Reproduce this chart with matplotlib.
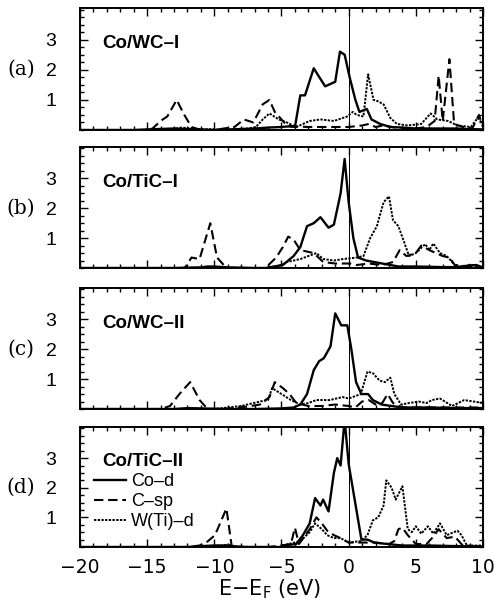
import numpy as np
import matplotlib
matplotlib.use("Agg")
import matplotlib.pyplot as plt
from matplotlib.ticker import MultipleLocator
from matplotlib.transforms import blended_transform_factory

# ---- panel (a) Co/WC-I ----
a_co_E = [-20, -16, -15, -13, -12, -10, -8, -7, -6, -5, -4.5, -4.0, -3.6, -3.25, -2.6, -2.25, -1.75,
          -1.0, -0.65, -0.3, 0.1, 0.5, 0.8, 1.35, 1.7, 2.35, 3.1, 4, 5, 6, 7, 8, 9, 10]
a_co = [0, 0, 0.02, 0.05, 0.03, 0.0, 0.03, 0.05, 0.08, 0.1, 0.12, 0.1, 1.15, 1.15, 2.05, 1.8, 1.45,
        1.6, 2.6, 2.5, 1.7, 1.0, 0.6, 0.7, 0.35, 0.2, 0.1, 0.08, 0.05, 0.05, 0.05, 0.05, 0.03, 0.02]
a_c_E = [-20, -15, -14.6, -14.0, -13.5, -12.8, -12.3, -11.7, -11, -10, -9.3, -8.5, -7.8, -7.1, -6.4,
         -5.9, -5.5, -5.0, -4.6, -4, -3, -2, -1, 0, 1, 1.5, 2, 2.6, 3.2, 4, 5, 5.8, 6.4, 6.7, 7.0,
         7.5, 7.85, 8.5, 9.2, 9.7, 10]
a_c = [0, 0, 0.05, 0.3, 0.45, 1.0, 0.55, 0.1, 0.0, 0.0, 0.05, 0.1, 0.35, 0.25, 0.85,
       1.0, 0.6, 0.35, 0.15, 0.12, 0.1, 0.1, 0.1, 0.1, 0.15, 0.2, 0.1, 0.15, 0.1, 0.05, 0.05, 0.1, 0.3, 1.8, 0.3,
       2.35, 0.2, 0.1, 0.05, 0.5, 0.1]
a_w_E = [-20, -15, -13, -12.5, -11, -9, -7.5, -6.9, -6.4, -5.9, -5.2, -4.6, -3.9, -2.9, -2.1, -1.1,
         -0.1, 0.3, 0.6, 1.1, 1.45, 1.85, 2.2, 2.6, 3.1, 3.6, 4.4, 5.4, 6.1, 6.6, 7.4, 8.1, 9.1, 9.6, 10]
a_w = [0, 0, 0.03, 0.08, 0.03, 0.02, 0.05, 0.1, 0.35, 0.55, 0.35, 0.25, 0.1, 0.3, 0.35, 0.3,
       0.45, 0.6, 0.5, 0.45, 1.85, 1.0, 0.95, 0.85, 0.4, 0.2, 0.15, 0.2, 0.55, 0.35, 0.3, 0.15, 0.1, 0.4, 0.2]

# ---- panel (b) Co/TiC-I ----
b_co_E = [-20, -13, -11, -10.5, -10, -9, -7, -6.2, -4.9, -4.1, -3.6, -3.1, -2.6, -2.1, -1.5, -1.1,
          -0.6, -0.3, 0.0, 0.35, 0.7, 1.3, 2.5, 3.7, 5, 7, 8, 9, 9.5, 10]
b_co = [0, 0, 0.02, 0.05, 0.05, 0.02, 0, 0, 0.1, 0.4, 0.7, 1.4, 1.5, 1.7, 1.35, 1.45,
        2.5, 3.65, 2.2, 1.0, 0.35, 0.25, 0.15, 0.05, 0.05, 0.03, 0.03, 0.08, 0.1, 0.02]
b_c_E = [-20, -13, -12.2, -11.7, -11.1, -10.3, -9.8, -9.1, -7, -6.2, -5.4, -4.9, -4.5, -4.1, -3.6,
         -2.6, -1.9, -1, 0.1, 0.6, 1.5, 2.5, 3.3, 3.8, 4.3, 5.0, 5.4, 6.0, 6.5, 7.0, 7.5, 7.9, 9, 10]
b_c = [0, 0, 0.0, 0.35, 0.3, 1.5, 0.35, 0.0, 0.0, 0.0, 0.35, 0.7, 1.05, 0.95, 0.6,
       0.5, 0.2, 0.15, 0.15, 0.1, 0.15, 0.1, 0.2, 0.6, 0.4, 0.5, 0.75, 0.6, 0.5, 0.4, 0.35, 0.1, 0.05, 0.0]
b_w_E = [-20, -13, -10, -7, -6, -5, -4.6, -3.6, -2.4, -1.9, -1.1, -0.4, 0.6, 1.1, 1.6, 2.1, 2.6,
         3.0, 3.3, 3.7, 4.1, 4.5, 5.0, 5.7, 6.0, 6.3, 6.8, 7.3, 8.0, 8.5, 9.1, 9.5, 10]
b_w = [0, 0, 0.02, 0, 0, 0.1, 0.2, 0.3, 0.5, 0.3, 0.25, 0.3, 0.35, 0.4, 1.0, 1.4, 2.2,
       2.4, 1.6, 1.4, 0.9, 0.4, 0.5, 0.8, 0.6, 0.82, 0.5, 0.4, 0.05, 0.05, 0.12, 0.05, 0.0]

# ---- panel (c) Co/WC-II ----
c_co_E = [-20, -13, -12, -11, -9, -7, -5, -4.1, -3.6, -3.1, -2.6, -2.2, -1.85, -1.35, -1.0, -0.55,
          -0.1, 0.2, 0.55, 0.95, 1.45, 1.8, 2.45, 3.2, 4.0, 6, 8, 10]
c_co = [0, 0, 0.03, 0.02, 0.0, 0.0, 0.02, 0.05, 0.15, 0.5, 1.3, 1.6, 1.7, 2.1, 3.2, 2.8,
        2.8, 2.0, 0.9, 0.5, 0.5, 0.3, 0.15, 0.1, 0.05, 0.05, 0.03, 0.03]
c_c_E = [-20, -14, -13.3, -12.6, -11.8, -11.1, -10.5, -9.5, -8, -6.6, -5.9, -5.5, -4.9, -4.4, -3.9,
         -3, -2, -1, 0, 0.5, 1.0, 1.5, 2.0, 2.5, 2.9, 3.3, 4, 5, 6, 7, 8, 9, 10]
c_c = [0, 0, 0.1, 0.5, 0.9, 0.3, 0.0, 0.0, 0.05, 0.15, 0.4, 0.9, 0.7, 0.5, 0.2,
       0.1, 0.1, 0.15, 0.1, 0.05, 0.25, 0.3, 0.15, 0.2, 0.5, 0.2, 0.05, 0.05, 0.05, 0.05, 0.05, 0.05, 0.05]
c_w_E = [-20, -12, -10, -9, -8, -6.6, -6.0, -5.7, -5.0, -4.3, -3.6, -3.0, -2.4, -1.4, -0.45, 0.0,
         0.9, 1.4, 1.8, 2.3, 2.7, 3.1, 3.4, 3.9, 4.5, 5.2, 5.8, 6.2, 6.8, 7.7, 8.6, 9.3, 10]
c_w = [0, 0.0, 0.0, 0.05, 0.1, 0.25, 0.3, 0.7, 0.5, 0.3, 0.15, 0.2, 0.3, 0.3, 0.4, 0.35,
       0.5, 1.25, 1.2, 0.95, 0.9, 1.05, 0.5, 0.15, 0.2, 0.25, 0.2, 0.3, 0.35, 0.1, 0.3, 0.25, 0.2]

# ---- panel (d) Co/TiC-II ----
d_co_E = [-20, -12, -11, -10, -9, -8, -6, -5, -4.9, -3.9, -3.4, -2.9, -2.5, -2.1, -1.9, -1.5, -1.1,
          -0.85, -0.6, -0.3, 0.0, 0.95, 1.4, 1.9, 2.9, 4.0, 6, 8, 10]
d_co = [0, 0, 0.03, 0.05, 0.05, 0, 0, 0, 0.05, 0.1, 0.4, 0.8, 1.65, 1.4, 1.6, 1.2, 2.5,
        3.0, 2.75, 4.3, 2.8, 0.25, 0.25, 0.15, 0.1, 0.05, 0.05, 0.03, 0.02]
d_c_E = [-20, -12, -11.1, -10.6, -9.95, -9.1, -8.7, -8, -6, -5, -4.3, -4.0, -3.7, -2.9, -2.4, -2.0,
         -1.6, -1.1, -0.6, 0, 1, 2, 3, 3.4, 3.7, 4.0, 4.4, 5, 5.8, 6.3, 6.7, 7.3, 7.9, 8.6, 9, 10]
d_c = [0, 0, 0.05, 0.15, 0.4, 1.3, 0.0, 0.0, 0.0, 0.05, 0.1, 0.65, 0.1, 0.6, 1.0, 0.8,
       0.55, 0.4, 0.3, 0.15, 0.15, 0.15, 0.1, 0.2, 0.6, 0.65, 0.4, 0.1, 0.1, 0.35, 0.6, 0.3, 0.35, 0.0, 0.0, 0.0]
d_w_E = [-20, -12, -11, -9.5, -9, -8.5, -7, -5, -4.9, -3.6, -2.9, -2.5, -2.0, -1.6, -1.1, -0.6, 0,
         0.9, 1.4, 1.8, 2.2, 2.6, 2.8, 3.2, 3.5, 4.0, 4.4, 4.7, 5.0, 5.4, 5.9, 6.3, 6.8, 7.3, 8.1,
         8.4, 8.8, 10]
d_w = [0, 0, 0.02, 0.05, 0.08, 0.02, 0, 0, 0.05, 0.2, 0.5, 0.8, 0.6, 0.4, 0.3, 0.3, 0.15,
       0.2, 0.4, 0.9, 1.0, 1.4, 2.25, 2.0, 1.6, 2.05, 0.6, 0.5, 0.7, 0.45, 0.7, 0.45, 0.8, 0.4, 0.55,
       0.4, 0.05, 0.05]

titles = ["Co/WC\u2013I", "Co/TiC\u2013I", "Co/WC\u2013II", "Co/TiC\u2013II"]
letters = ["(a)", "(b)", "(c)", "(d)"]
series = [
    [(a_co_E, a_co), (a_c_E, a_c), (a_w_E, a_w)],
    [(b_co_E, b_co), (b_c_E, b_c), (b_w_E, b_w)],
    [(c_co_E, c_co), (c_c_E, c_c), (c_w_E, c_w)],
    [(d_co_E, d_co), (d_c_E, d_c), (d_w_E, d_w)],
]
labels = ["Co\u2013d", "C\u2013sp", "W(Ti)\u2013d"]
yticks = [1, 2, 3]

W, H = 502, 602
fig = plt.figure(figsize=(W / 100, H / 100), dpi=100)
# panel top/bottom in pixels
boxes = [(8, 130), (147, 268), (288, 409), (427, 547)]
left, right = 80, 483

styles = [dict(ls="-", lw=1.7),
          dict(ls=(0, (4.5, 2.3)), lw=1.5),
          dict(ls=(0, (1.2, 0.7)), lw=1.4)]

sans = "Liberation Sans"
for i, (top, bot) in enumerate(boxes):
    ax = fig.add_axes([left / W, 1 - bot / H, (right - left) / W, (bot - top) / H])
    handles = []
    for (E, dos), st, lab in zip(series[i], styles, labels):
        h, = ax.plot(E, dos, color="black", label=lab, **st)
        handles.append(h)
    ax.axvline(0, color="black", lw=0.7)
    ax.set_xlim(-20, 10)
    ax.set_ylim(0, 4.05)
    ax.xaxis.set_major_locator(MultipleLocator(5))
    ax.xaxis.set_minor_locator(MultipleLocator(1))
    ax.set_yticks(yticks)
    ax.yaxis.set_minor_locator(MultipleLocator(0.25))
    ax.tick_params(which="both", direction="in", top=True, right=True, width=1.0)
    ax.tick_params(which="major", length=5.5)
    ax.tick_params(which="minor", length=3)
    ax.tick_params(axis="y", pad=17, labelsize=14)
    for lab in ax.get_yticklabels():
        lab.set_fontfamily(sans)
    for s in ax.spines.values():
        s.set_linewidth(1.4)
    ax.text(0.055, 0.71, titles[i], transform=ax.transAxes, fontsize=13.5,
            fontweight="bold", family=sans, va="center", ha="left")
    tr = blended_transform_factory(fig.transFigure, ax.transData)
    ax.text(21 / W, 2, letters[i], transform=tr, fontsize=14.5, family="DejaVu Serif",
            ha="center", va="center")
    if i < 3:
        ax.tick_params(axis="x", labelbottom=False)
    else:
        ax.tick_params(axis="x", pad=8, labelsize=13.5)
        ax.set_xticks([-20, -15, -10, -5, 0, 5, 10])
        ax.set_xticklabels(["\u221220", "\u221215", "\u221210", "\u22125", "0", "5", "10"])
        ax.set_xlabel("E\u2212E$_\\mathrm{F}$ (eV)", fontsize=15)
        ax.xaxis.set_label_coords(0.47, -0.255)
        ax.legend(handles=handles, loc="upper left", bbox_to_anchor=(0.035, 0.615),
                  frameon=False, handlelength=1.75, handletextpad=0.3,
                  labelspacing=0.17, borderpad=0, borderaxespad=0,
                  prop={"family": sans, "size": 13})

fig.savefig("out.png", dpi=100)
